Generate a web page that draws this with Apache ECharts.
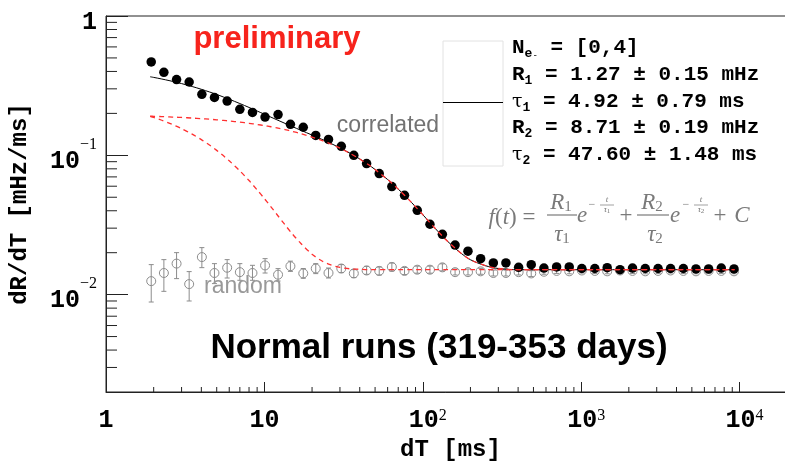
<!DOCTYPE html>
<html><head><meta charset="utf-8">
<script src="https://cdn.jsdelivr.net/npm/echarts@6/dist/echarts.min.js"></script>
<style>html,body{margin:0;padding:0;background:#fff}#c{width:785px;height:461px}</style>
</head><body><div id="c"></div>
<script>
// ---- data ----
const dT = [1.93,2.32,2.79,3.35,4.03,4.84,5.82,7.00,8.41,10.1,12.2,14.6,17.6,21.1,25.4,30.6,36.7,44.2,53.1,63.8,76.7,92.3,111,133,160,193,232,279,335,403,484,582,700,841,1010,1220,1460,1760,2110,2540,3060,3670,4420,5310,6380,7670,9230];
const rateCorrelated = [0.468,0.394,0.350,0.336,0.274,0.260,0.245,0.214,0.203,0.188,0.196,0.167,0.159,0.139,0.130,0.116,0.100,0.0872,0.0739,0.0596,0.0516,0.0403,0.0320,0.0271,0.0227,0.0205,0.0181,0.0169,0.0169,0.0157,0.0164,0.0155,0.0158,0.0158,0.0154,0.0154,0.0156,0.0151,0.0155,0.0154,0.0154,0.0154,0.0154,0.0153,0.0153,0.0155,0.0153];
const rateRandom = [0.0125,0.0143,0.0167,0.0119,0.0186,0.0143,0.0156,0.0145,0.0143,0.0162,0.0139,0.0160,0.0142,0.0154,0.0143,0.0154,0.0142,0.0149,0.0148,0.0158,0.0148,0.0151,0.0151,0.0157,0.0145,0.0145,0.0147,0.0143,0.0143,0.0145,0.0142,0.0146,0.0148,0.0147,0.0149,0.0148,0.0147,0.0149,0.0148,0.0147,0.0148,0.0149,0.0148,0.0147,0.0148,0.0148,0.0147];
const randomLow = [0.00885,0.01056,0.01303,0.00900,0.01562,0.01200,0.01316,0.01267,0.01267,0.01429,0.01252,0.01468,0.0131,0.01415,0.01316,0.01439,0.01325,0.01399,0.01383,0.01477,0.01393,0.01425,0.01425,0.01481,0.01384,0.01384,0.0140,0.01361,0.01361,0.01384,0.01348,0.01401,0.0142,0.01411,0.0143,0.0142,0.01411,0.0143,0.0142,0.01411,0.0142,0.0143,0.0142,0.01411,0.0142,0.0142,0.01411];
const randomHigh = [0.01642,0.01783,0.02002,0.01463,0.02175,0.01669,0.01783,0.01669,0.01623,0.01813,0.01537,0.01739,0.0154,0.01669,0.01552,0.01642,0.01511,0.01596,0.01578,0.01685,0.01566,0.01601,0.01601,0.01664,0.01526,0.01526,0.01544,0.0150,0.0150,0.01526,0.01486,0.01521,0.01542,0.01532,0.01553,0.01542,0.01532,0.01553,0.01542,0.01532,0.01542,0.01553,0.01542,0.01532,0.01542,0.01542,0.01532];
const fitT     = [1.9,2,2.25,2.5,2.75,3,3.5,4,4.5,5,5.5,6,7,8,9,10,11,12,13.5,15,17,20,23,26,30,35,40,45,50,60,70,85,100,120,140,170,200,250,300,400,500,1000,9300];
const fitTotal = [0.3663,0.3625,0.3530,0.3440,0.3354,0.3272,0.3118,0.2978,0.2850,0.2732,0.2625,0.2526,0.2353,0.2206,0.2080,0.1972,0.1879,0.1798,0.1695,0.1608,0.1513,0.1397,0.1304,0.1224,0.1131,0.1030,0.0942,0.0862,0.0791,0.0670,0.0572,0.0458,0.0375,0.0298,0.0248,0.0203,0.0178,0.0161,0.0154,0.0151,0.0151,0.0151,0.0151];
const fitShort = [0.1905,0.1870,0.1785,0.1704,0.1627,0.1554,0.1418,0.1296,0.1185,0.1085,0.0995,0.0913,0.0773,0.0659,0.0565,0.0489,0.0427,0.0376,0.0317,0.0273,0.0233,0.0195,0.0175,0.0164,0.0157,0.0153,0.0152,0.0151,0.0151,0.0151,0.0151,0.0151,0.0151,0.0151,0.0151,0.0151,0.0151,0.0151,0.0151,0.0151,0.0151,0.0151,0.0151];
const fitLong  = [0.1909,0.1906,0.1896,0.1887,0.1878,0.1869,0.1851,0.1833,0.1816,0.1798,0.1781,0.1764,0.1731,0.1698,0.1666,0.1634,0.1603,0.1573,0.1529,0.1486,0.1431,0.1353,0.1280,0.1211,0.1125,0.1028,0.0941,0.0862,0.0791,0.0670,0.0572,0.0458,0.0375,0.0298,0.0248,0.0203,0.0178,0.0161,0.0154,0.0151,0.0151,0.0151,0.0151];
const minorMantissa = [2,3,4,5,6,7,8,9];
const xDecades = [1,10,100,1000,10000];
const yDecades = [0.001,0.01,0.1];
const legendLines = [
  '{m|N}{sub|e}{ss|-}{m| = [0,4]}',
  '{m|R}{sub|1}{m| = 1.27 ± 0.15 mHz}',
  '{g|τ}{sub|1}{m| = 4.92 ± 0.79 ms}',
  '{m|R}{sub|2}{m| = 8.71 ± 0.19 mHz}',
  '{g|τ}{sub|2}{m| = 47.60 ± 1.48 ms}'
];

const X_MIN = 1, X_MAX = 22400, Y_MIN = 0.002, Y_MAX = 1;
const xMinor = [], yMinor = [];
xDecades.forEach(d => minorMantissa.forEach(m => { const v = d*m; if (v < X_MAX) xMinor.push([v, Y_MIN]); }));
yDecades.forEach(d => minorMantissa.forEach(m => { const v = d*m; if (v > Y_MIN && v < Y_MAX) yMinor.push([X_MIN, v]); }));

const MONO = 'Liberation Mono';
const GRAY = '#8c8c8c';
const RED = '#ff3030';
const FC = '#7a7a7a';

function expOf(v){ const l = Math.log10(v); const e = Math.round(l); return Math.abs(l-e) < 1e-6 ? e : null; }

const chart = echarts.init(document.getElementById('c'), null, {renderer:'canvas'});

const fText = (x, y, text, extra) => Object.assign({type:'text', x, y, silent:true, z:50,
  style: Object.assign({text, fill:FC, fontFamily:'Liberation Serif', fontSize:23, align:'center', verticalAlign:'middle'}, extra||{})});
const fLine = (x1, x2, y, w) => ({type:'line', silent:true, z:50, shape:{x1, y1:y, x2, y2:y}, style:{stroke:FC, lineWidth:w||1.2}});
const subRich = {
  i:{fontFamily:'Liberation Serif', fontStyle:'italic', fontSize:23, color:FC},
  n:{fontFamily:'Liberation Serif', fontSize:23, color:FC},
  s:{fontFamily:'Liberation Serif', fontSize:15, color:FC, verticalAlign:'bottom', lineHeight:15},
  t:{fontFamily:'Liberation Serif', fontStyle:'italic', fontSize:9, color:FC},
  ts:{fontFamily:'Liberation Serif', fontSize:7, color:FC, verticalAlign:'bottom', lineHeight:8}
};

const graphics = [
  {type:'rect', silent:true, z:40, shape:{x:443, y:41, width:60, height:125}, style:{fill:'#fff', stroke:'#e2e2e2', lineWidth:1}},
  {type:'line', silent:true, z:41, shape:{x1:443, y1:102.5, x2:503, y2:102.5}, style:{stroke:'#000', lineWidth:1}},
  {type:'text', x:277, y:39, silent:true, z:50, style:{text:'preliminary', fill:'#f7231c', fontFamily:'Liberation Sans', fontWeight:'bold', fontSize:31, align:'center', verticalAlign:'middle'}},
  {type:'text', x:388, y:126, silent:true, z:50, style:{text:'correlated', fill:'#737373', fontFamily:'Liberation Sans', fontSize:23, align:'center', verticalAlign:'middle'}},
  {type:'text', x:243, y:287, silent:true, z:50, style:{text:'random', fill:'#999', fontFamily:'Liberation Sans', fontSize:23, align:'center', verticalAlign:'middle'}},
  {type:'text', x:439, y:348, silent:true, z:50, style:{text:'Normal runs (319-353 days)', fill:'#000', fontFamily:'Liberation Sans', fontWeight:'bold', fontSize:35, align:'center', verticalAlign:'middle'}},
  fText(512, 218, '{i|f}{n|(}{i|t}{n|) =}', {rich:subRich}),
  fText(561, 203, '{i|R}{s|1}', {rich:subRich}),
  fLine(547, 577, 215),
  fText(562, 235, '{i|τ}{s|1}', {rich:subRich}),
  fText(582, 216, 'e', {fontStyle:'italic'}),
  fText(592, 205, '−', {fontSize:12}),
  fText(607, 200, 't', {fontStyle:'italic', fontSize:9}),
  fLine(600, 614, 205, 0.7),
  fText(607, 210, '{t|τ}{ts|1}', {rich:subRich}),
  fText(626, 216, '+'),
  fText(652, 203, '{i|R}{s|2}', {rich:subRich}),
  fLine(637, 669, 215),
  fText(655, 235, '{i|τ}{s|2}', {rich:subRich}),
  fText(675, 216, 'e', {fontStyle:'italic'}),
  fText(686, 205, '−', {fontSize:12}),
  fText(701, 200, 't', {fontStyle:'italic', fontSize:9}),
  fLine(694, 708, 205, 0.7),
  fText(701, 210, '{t|τ}{ts|2}', {rich:subRich}),
  fText(720, 216, '+'),
  fText(742, 216, 'C', {fontStyle:'italic'})
];
const legendY = [48, 75, 102, 128, 155];
legendLines.forEach((t, i) => graphics.push({type:'text', x:512, y:legendY[i], silent:true, z:50,
  style:{text:t, align:'left', verticalAlign:'middle', rich:{
    m:{fontFamily:MONO, fontWeight:'bold', fontSize:21, color:'#000', lineHeight:24},
    g:{fontFamily:'DejaVu Serif', fontSize:19, color:'#000', lineHeight:24},
    sub:{fontFamily:MONO, fontWeight:'bold', fontSize:13, color:'#000', verticalAlign:'bottom', lineHeight:13},
    ss:{fontFamily:MONO, fontSize:9, color:'#000', verticalAlign:'bottom', lineHeight:18}
  }}}));

const option = {
  animation:false,
  backgroundColor:'#fff',
  grid:{left:106, top:16, right:-10, bottom:69, containLabel:false, outerBoundsMode:'none',
        show:true, borderColor:'#222', borderWidth:1, backgroundColor:'transparent'},
  xAxis:{
    type:'log', logBase:10, min:X_MIN, max:X_MAX, splitNumber:4,
    name:'dT [ms]', nameLocation:'middle', nameGap:45,
    nameTextStyle:{fontFamily:MONO, fontWeight:'bold', fontSize:24, color:'#000'},
    axisLine:{lineStyle:{color:'#222', width:1}},
    axisTick:{inside:true, length:10, lineStyle:{color:'#222'}},
    splitLine:{show:false}, minorTick:{show:false},
    axisLabel:{margin:16, formatter:v => { const e = expOf(v); if (e === null) return ''; if (e===0) return '{b|1}'; if (e===1) return '{b|10}'; return '{bp|10}{s|'+e+'}'; },
      rich:{b:{fontFamily:MONO, fontWeight:'bold', fontSize:25, color:'#000'},
            bp:{fontFamily:MONO, fontWeight:'bold', fontSize:25, color:'#000', padding:[0,0,0,10]},
            s:{fontFamily:'Liberation Serif', fontSize:16, color:'#000', verticalAlign:'top'}}}
  },
  yAxis:{
    type:'log', logBase:10, min:Y_MIN, max:Y_MAX, splitNumber:3,
    name:'dR/dT [mHz/ms]', nameLocation:'middle', nameGap:74, nameRotate:90,
    nameTextStyle:{fontFamily:MONO, fontWeight:'bold', fontSize:24, color:'#000'},
    axisLine:{lineStyle:{color:'#222', width:1}},
    axisTick:{inside:true, length:22, lineStyle:{color:'#222'}},
    splitLine:{show:false}, minorTick:{show:false},
    axisLabel:{margin:9, formatter:v => { const e = expOf(v); if (e === null) return ''; if (e===0) return '{b|1}'; return '{b|10}{s|−'+(-e)+'}'; },
      rich:{b:{fontFamily:MONO, fontWeight:'bold', fontSize:25, color:'#000', padding:[13,0,0,0]},
            s:{fontFamily:'Liberation Serif', fontSize:16, color:'#000', verticalAlign:'top'}}}
  },
  graphic:graphics,
  series:[
    {type:'custom', name:'xminor', silent:true, clip:false, z:5, data:xMinor,
     renderItem:(p, api) => { const c = api.coord([api.value(0), api.value(1)]); return {type:'line', shape:{x1:c[0], y1:c[1], x2:c[0], y2:c[1]-5}, style:{stroke:'#222', lineWidth:1}}; }},
    {type:'custom', name:'yminor', silent:true, clip:false, z:5, data:yMinor,
     renderItem:(p, api) => { const c = api.coord([api.value(0), api.value(1)]); return {type:'line', shape:{x1:c[0], y1:c[1], x2:c[0]+11, y2:c[1]}, style:{stroke:'#222', lineWidth:1}}; }},
    {type:'scatter', name:'random', z:6, symbol:'circle', symbolSize:9,
     itemStyle:{color:'rgba(255,255,255,0)', borderColor:GRAY, borderWidth:1, opacity:1},
     data:dT.map((x,i) => [x, rateRandom[i]])},
    {type:'custom', name:'randomErr', silent:true, z:7, clip:false,
     data:dT.map((x,i) => [x, randomLow[i], randomHigh[i]]),
     renderItem:(p, api) => { const lo = api.coord([api.value(0), api.value(1)]); const hi = api.coord([api.value(0), api.value(2)]);
       const st = {stroke:GRAY, lineWidth:1};
       return {type:'group', children:[
         {type:'line', shape:{x1:lo[0], y1:lo[1], x2:hi[0], y2:hi[1]}, style:st},
         {type:'line', shape:{x1:lo[0]-2.5, y1:lo[1], x2:lo[0]+2.5, y2:lo[1]}, style:st},
         {type:'line', shape:{x1:hi[0]-2.5, y1:hi[1], x2:hi[0]+2.5, y2:hi[1]}, style:st}]}; }},
    {type:'scatter', name:'correlated', z:8, symbol:'circle', symbolSize:9.5, itemStyle:{color:'#000', opacity:1},
     data:dT.map((x,i) => [x, rateCorrelated[i]])},
    {type:'line', name:'fit', z:9, showSymbol:false, smooth:0.3, lineStyle:{color:'#000', width:1},
     data:fitT.map((x,i) => [x, fitTotal[i]])},
    {type:'line', name:'short', z:10, showSymbol:false, smooth:0.3, lineStyle:{color:RED, width:1.3, type:[5,4]},
     data:fitT.map((x,i) => [x, fitShort[i]])},
    {type:'line', name:'long', z:10, showSymbol:false, smooth:0.3, lineStyle:{color:RED, width:1.3, type:[5,4]},
     data:fitT.map((x,i) => [x, fitLong[i]])}
  ]
};
chart.setOption(option);
</script>
</body></html>
